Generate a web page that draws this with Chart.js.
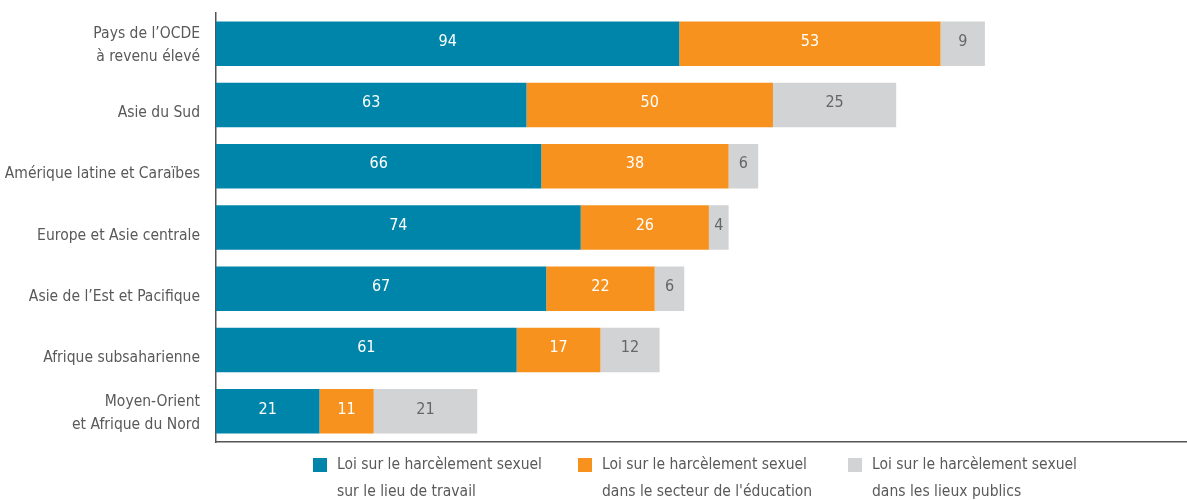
<!DOCTYPE html>
<html><head><meta charset="utf-8">
<script src="https://cdn.jsdelivr.net/npm/chart.js@4/dist/chart.umd.min.js"></script>
<style>html,body{margin:0;padding:0;background:#fff}#w{width:1187px;height:500px;position:relative}</style>
</head><body><div id="w"><canvas id="c"></canvas></div>
<script>
const categories = [["Pays de l’OCDE","à revenu élevé"],"Asie du Sud","Amérique latine et Caraïbes","Europe et Asie centrale","Asie de l’Est et Pacifique","Afrique subsaharienne",["Moyen-Orient","et Afrique du Nord"]];
const workplace = [94,63,66,74,67,61,21];
const education = [53,50,38,26,22,17,11];
const publicPlaces = [9,25,6,4,6,12,21];
const seriesLabels = [["Loi sur le harcèlement sexuel","sur le lieu de travail"],["Loi sur le harcèlement sexuel","dans le secteur de l'éducation"],["Loi sur le harcèlement sexuel","dans les lieux publics"]];

const FONT = '"DejaVu Sans Condensed",sans-serif';
const colors = ['#0085AA','#F7921E','#D1D3D4'];
const labelColors = ['#ffffff','#ffffff','#666666'];

const valueLabels = {
  id:'valueLabels',
  afterDatasetsDraw(chart){
    const ctx = chart.ctx;
    ctx.save();
    ctx.font = '16px ' + FONT;
    ctx.textAlign = 'center'; ctx.textBaseline = 'middle';
    chart.data.datasets.forEach((ds,i)=>{
      chart.getDatasetMeta(i).data.forEach((el,j)=>{
        const cx = (el.x + el.base)/2;
        ctx.fillStyle = labelColors[i];
        ctx.fillText(String(ds.data[j]), cx, el.y - 2);
      });
    });
    ctx.restore();
  }
};
const customLegend = {
  id:'customLegend',
  afterDraw(chart){
    const ctx = chart.ctx;
    const xs = [313,578,848];
    ctx.save();
    ctx.font = '15.5px ' + FONT;
    ctx.textBaseline = 'middle'; ctx.textAlign = 'left';
    chart.data.datasets.forEach((ds,i)=>{
      ctx.fillStyle = colors[i];
      ctx.fillRect(xs[i], 458, 14, 14);
      ctx.fillStyle = '#595959';
      seriesLabels[i].forEach((t,k)=>ctx.fillText(t, xs[i]+24, 465 + k*27));
    });
    ctx.restore();
  }
};

new Chart(document.getElementById('c'), {
  type:'bar',
  data:{
    labels: categories,
    datasets:[
      {label:'Loi sur le harcèlement sexuel sur le lieu de travail', data: workplace, backgroundColor: colors[0]},
      {label:"Loi sur le harcèlement sexuel dans le secteur de l'éducation", data: education, backgroundColor: colors[1]},
      {label:'Loi sur le harcèlement sexuel dans les lieux publics', data: publicPlaces, backgroundColor: colors[2]}
    ]
  },
  options:{
    indexAxis:'y',
    responsive:true, maintainAspectRatio:false, animation:false,
    layout:{padding:{top:13,bottom:58,left:0,right:0}},
    datasets:{bar:{barPercentage:1, categoryPercentage:0.726, borderWidth:0}},
    plugins:{legend:{display:false}, tooltip:{enabled:false}},
    scales:{
      x:{stacked:true, min:0, max:197,
         grid:{display:false, drawTicks:false},
         border:{display:true, color:'#555555', width:1.5},
         ticks:{display:false},
         afterFit(s){ s.height = 0; s.paddingLeft = 0; s.paddingRight = 0; }},
      y:{stacked:true,
         grid:{display:false, drawTicks:false},
         border:{display:true, color:'#555555', width:1.5},
         ticks:{color:'#595959', padding:16, labelOffset:2,
           callback:(v,i)=> Array.isArray(categories[i]) ? categories[i] : ['', categories[i]],
           font:(c)=>({family:FONT, size:15.5, lineHeight: Array.isArray(categories[c.index]) ? '23px' : '12px'})},
         afterFit(s){ s.width = 216; s.paddingTop = 0; s.paddingBottom = 0; }}
    }
  },
  plugins:[valueLabels, customLegend]
});
</script></body></html>
